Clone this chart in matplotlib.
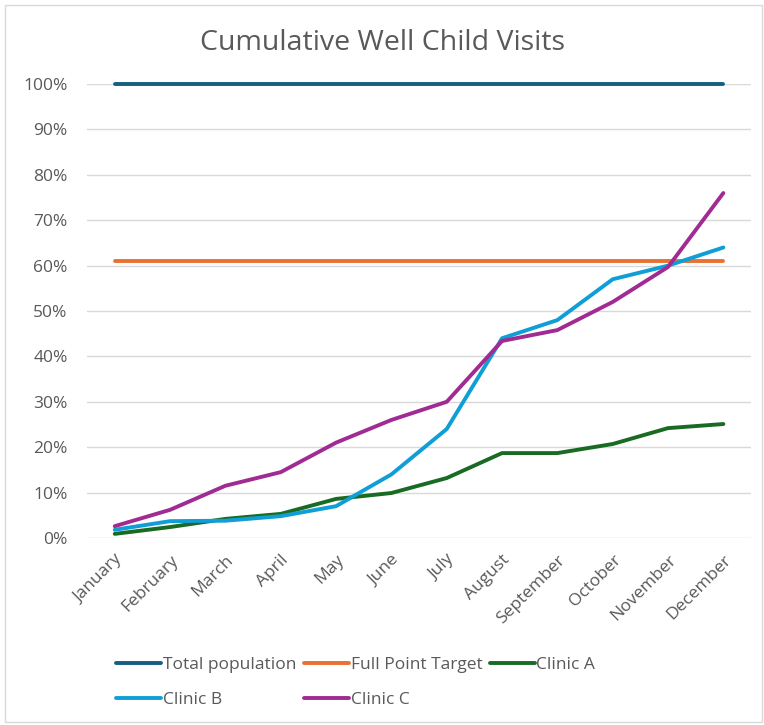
import matplotlib
matplotlib.use("Agg")
import matplotlib.pyplot as plt
from matplotlib.patches import Rectangle
from matplotlib.ticker import PercentFormatter

months = ["January", "February", "March", "April", "May", "June", "July",
          "August", "September", "October", "November", "December"]

total_population = [100] * 12
full_point_target = [61] * 12
clinic_a = [0.9, 2.4, 4.2, 5.3, 8.6, 9.9, 13.2, 18.7, 18.7, 20.7, 24.2, 25.1]
clinic_b = [1.8, 3.7, 3.8, 4.8, 7.0, 14.0, 24.0, 44.0, 48.0, 57.0, 60.0, 64.0]
clinic_c = [2.6, 6.2, 11.5, 14.5, 21.0, 26.0, 30.0, 43.4, 45.8, 52.0, 59.7, 76.0]

series = [
    ("Total population", total_population, "#156082"),
    ("Full Point Target", full_point_target, "#E97132"),
    ("Clinic A", clinic_a, "#196B24"),
    ("Clinic B", clinic_b, "#0F9ED5"),
    ("Clinic C", clinic_c, "#A02B93"),
]

plt.rcParams["font.family"] = ["Open Sans", "DejaVu Sans"]
text_color = "#595959"
label_size = 12.5

fig = plt.figure(figsize=(7.64, 7.25), dpi=100)
ax = fig.add_axes([0.114, 0.258, 0.869, 0.626])

x = list(range(len(months)))
lines = {}
for name, vals, color in series:
    (ln,) = ax.plot(x, [v / 100 for v in vals], color=color, lw=2.8, label=name,
                    solid_capstyle="round", zorder=3, clip_on=False)
    lines[name] = ln

ax.set_xlim(-0.5, len(months) - 0.5)
ax.set_ylim(0, 1.0)
ax.set_yticks([i / 10 for i in range(11)])
ax.yaxis.set_major_formatter(PercentFormatter(1.0, decimals=0))
ax.grid(axis="y", color="#D9D9D9", lw=1.0)
ax.set_axisbelow(True)
for s in ax.spines.values():
    s.set_visible(False)
ax.tick_params(axis="both", length=0, colors=text_color, labelsize=label_size)
ax.tick_params(axis="y", pad=14)
ax.set_xticks(x)
ax.set_xticklabels(months, rotation=45, ha="right", rotation_mode="anchor")
ax.tick_params(axis="x", pad=10)

fig.text(0.5, 0.941, "Cumulative Well Child Visits", ha="center", va="center",
         fontsize=20.5, color=text_color)

# legend filled row by row: three entries on the first row, two on the second
order = ["Total population", "Clinic B", "Full Point Target", "Clinic C", "Clinic A"]
leg = fig.legend([lines[n] for n in order], order,
                 loc="upper left", bbox_to_anchor=(0.152, 0.094), ncol=3,
                 frameon=False, fontsize=label_size, handlelength=2.6,
                 handletextpad=0.1, columnspacing=0.42, labelspacing=1.1,
                 borderaxespad=0, borderpad=0)
for t in leg.get_texts():
    t.set_color(text_color)
for h in leg.get_lines():
    h.set_linewidth(2.8)

fig.patches.append(Rectangle((0.006, 0.004), 0.991, 0.989, transform=fig.transFigure,
                             fill=False, edgecolor="#D9D9D9", lw=1.0))

fig.savefig("out.png", dpi=100, facecolor="white")
